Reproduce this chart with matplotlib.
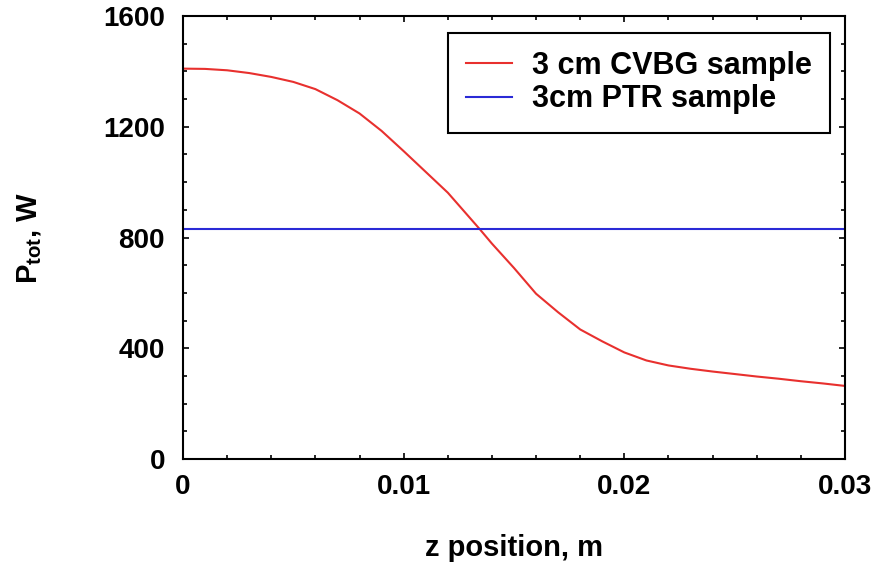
import matplotlib.pyplot as plt
from matplotlib.ticker import MultipleLocator

plt.rcParams['font.family'] = 'Liberation Sans'
plt.rcParams['font.weight'] = 'bold'
plt.rcParams['mathtext.fontset'] = 'custom'
plt.rcParams['mathtext.rm'] = 'Liberation Sans:bold'
plt.rcParams['mathtext.bf'] = 'Liberation Sans:bold'

# Total power along the sample, W
z_cvbg = [0.0, 0.001, 0.002, 0.003, 0.004, 0.005, 0.006, 0.007, 0.008, 0.009,
          0.010, 0.011, 0.012, 0.013, 0.01345, 0.014, 0.015, 0.016, 0.017, 0.018,
          0.019, 0.020, 0.021, 0.022, 0.023, 0.024, 0.025, 0.026, 0.027, 0.028,
          0.029, 0.030]
p_cvbg = [1410, 1409, 1404, 1394, 1380, 1362, 1336, 1296, 1248, 1185,
          1112, 1037, 962, 871, 830, 778, 690, 597, 530, 468,
          425, 385, 356, 338, 326, 316, 307, 298, 290, 281,
          273, 264]

z_ptr = [0.0, 0.03]
p_ptr = [830, 830]

labels = ['3 cm CVBG sample', '3cm PTR sample']

fig = plt.figure(figsize=(8.79, 5.66), dpi=100)
ax = fig.add_axes([0.2082, 0.189, 0.7531, 0.7827])

ax.plot(z_cvbg, p_cvbg, color='#e8302e', linewidth=1.5, label=labels[0])
ax.plot(z_ptr, p_ptr, color='#2a2ad6', linewidth=1.5, label=labels[1])

ax.set_xlim(0, 0.03)
ax.set_ylim(0, 1600)
ax.set_xticks([0, 0.01, 0.02, 0.03])
ax.set_xticklabels(['0', '0.01', '0.02', '0.03'])
ax.set_yticks([0, 400, 800, 1200, 1600])
ax.xaxis.set_minor_locator(MultipleLocator(0.002))
ax.yaxis.set_minor_locator(MultipleLocator(100))
ax.tick_params(which='both', direction='in', top=True, right=True,
               labelsize=20, width=1.2)
ax.tick_params(axis='x', pad=11)
ax.tick_params(axis='y', pad=13)
ax.tick_params(which='major', length=4)
ax.tick_params(which='minor', length=3)
for s in ax.spines.values():
    s.set_linewidth(1.5)

ax.set_xlabel('z position, m', fontsize=21, fontweight='bold', va='center')
ax.xaxis.set_label_coords(0.5, -0.201)
ax.set_ylabel(r'$\mathrm{P_{tot}}$, W', fontsize=21, fontweight='bold', va='center')
ax.yaxis.set_label_coords(-0.232, 0.5)

leg = ax.legend(loc='upper right', bbox_to_anchor=(0.977, 0.962), fontsize=22,
                fancybox=False, framealpha=1, edgecolor='black',
                handlelength=1.5, borderpad=0.6, labelspacing=0.1,
                handletextpad=0.65, borderaxespad=0)
leg.get_frame().set_linewidth(1.5)

fig.savefig('out.png', dpi=100)
